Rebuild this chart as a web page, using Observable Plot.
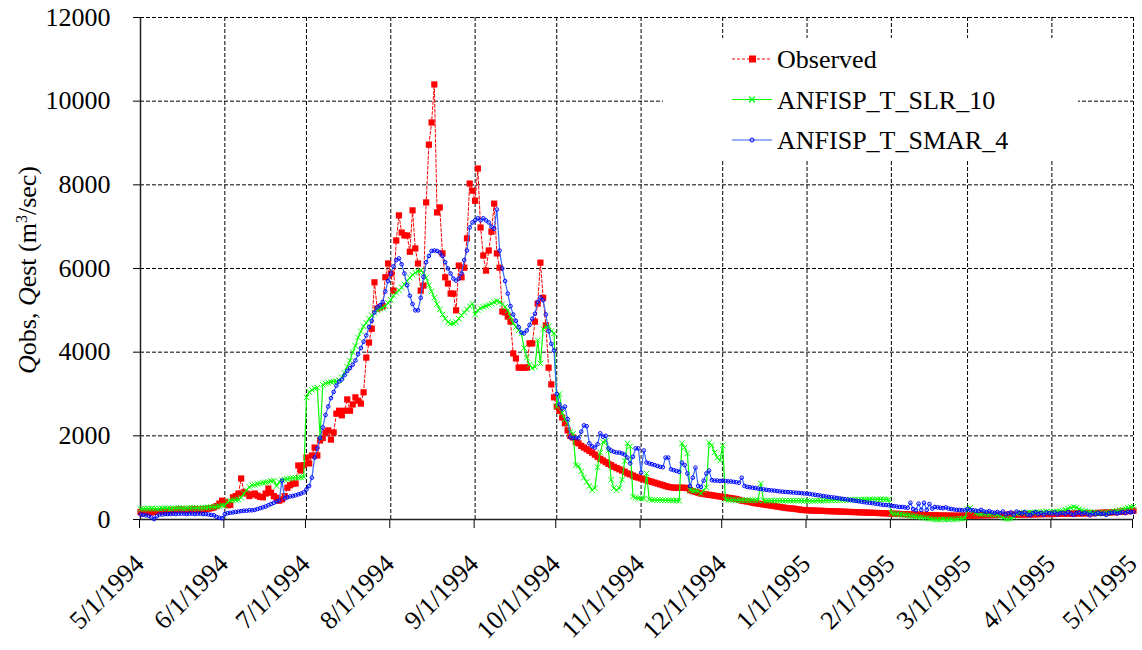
<!DOCTYPE html>
<html>
<head>
<meta charset="utf-8">
<script src="https://cdn.jsdelivr.net/npm/d3@7"></script>
<script src="https://cdn.jsdelivr.net/npm/@observablehq/plot@0.6"></script>
<style>
  html, body { margin: 0; padding: 0; background: #ffffff; }
  #chart { width: 1142px; height: 650px; }
</style>
</head>
<body>
<div id="chart"></div>
<script>
// ---------- DATA (daily values, 5/1/1994 .. 5/1/1995) ----------
const startDate = Date.UTC(1994, 4, 1);
const monthTickLabels = ["5/1/1994","6/1/1994","7/1/1994","8/1/1994","9/1/1994","10/1/1994","11/1/1994","12/1/1994","1/1/1995","2/1/1995","3/1/1995","4/1/1995","5/1/1995"];
const yTicks = [0, 2000, 4000, 6000, 8000, 10000, 12000];
const seriesNames = ["Observed", "ANFISP_T_SLR_10", "ANFISP_T_SMAR_4"];

const observed = [
  // May
  180,170,160,160,170,180,190,200,200,190,200,210,220,230,240,240,230,220,230,240,250,240,230,240,250,260,270,290,320,380,450,
  // Jun
  420,340,350,530,560,620,980,650,620,560,600,620,570,540,530,620,740,640,560,520,450,480,560,760,820,860,860,1290,1170,1300,
  // Jul
  1480,1340,1530,1720,1530,1890,1950,2080,2130,1910,2080,2530,2600,2490,2600,2870,2600,2750,2920,2840,2770,3040,3870,4230,4560,5670,5040,5070,5100,5790,6120,
  // Aug
  5880,5470,6670,7270,6860,6790,6790,6400,7390,6480,6120,5470,5590,7580,8960,9490,10400,7340,7460,6360,5790,5640,5400,5400,5000,6070,5790,6020,6720,8030,7860,
  // Sep
  7620,8390,6980,6310,5950,6430,6880,7550,6360,6020,4970,4950,4850,4730,3970,3850,3630,3630,3630,3630,4210,4210,4730,5160,6140,5300,4640,3630,3230,2920,
  // Oct
  2700,2600,2440,2300,2130,2000,1960,1850,1820,1760,1720,1680,1640,1600,1550,1500,1450,1410,1370,1330,1300,1260,1230,1200,1170,1140,1100,1080,1050,1020,1000,
  // Nov
  980,960,940,920,900,880,860,840,820,800,780,770,760,760,760,760,760,750,700,680,660,640,620,610,600,590,580,570,560,550,
  // Dec
  540,530,520,510,500,490,470,450,440,430,420,400,390,380,370,360,350,340,330,320,310,300,290,280,270,265,260,250,240,230,225,
  // Jan
  220,218,215,212,210,208,205,202,200,198,195,192,190,188,185,182,180,178,175,172,170,168,165,162,160,158,155,152,150,148,145,
  // Feb
  140,138,135,132,130,128,125,122,120,118,115,112,110,108,105,102,100,98,96,95,94,93,92,91,90,90,90,90,
  // Mar
  95,95,96,97,98,100,100,102,104,105,106,108,110,110,112,114,115,116,118,120,120,120,122,122,124,125,126,128,130,130,130,
  // Apr + May 1
  130,132,134,135,136,138,140,140,142,144,145,146,148,150,150,152,155,158,160,162,165,168,170,175,180,185,190,195,200,205,210
];

const slr10 = [
  // May
  250,255,260,260,265,260,255,260,265,270,265,260,265,270,275,270,265,270,275,280,275,270,275,280,285,290,295,300,310,320,340,
  // Jun
  330,420,450,460,470,480,520,620,700,780,820,830,850,860,880,890,900,920,930,800,900,940,960,970,980,990,1000,1000,1010,1020,
  // Jul
  2920,3050,3100,3130,3150,1960,3220,3250,3270,3290,3300,3300,3330,3400,3500,3650,3800,4000,4150,4350,4500,4620,4700,4800,4880,4940,5000,5040,5060,5100,5180,
  // Aug
  5250,5350,5420,5480,5550,5620,5700,5780,5850,5900,5930,5950,5900,5780,5600,5450,5300,5150,5020,4900,4800,4720,4680,4690,4720,4800,4880,4950,5020,5100,5160,
  // Sep
  4900,5000,5050,5080,5100,5130,5160,5200,5220,5200,5150,5080,5000,4850,4700,4600,4520,4450,4100,3870,3700,3620,3650,4280,3730,4550,4600,4620,4500,4450,
  // Oct
  2700,3000,2550,2400,2300,2100,2050,1300,1280,1150,1000,900,800,700,750,1250,1600,1850,1880,1650,950,750,700,750,950,1400,1820,1750,550,520,510,
  // Nov
  500,500,1100,480,470,470,465,465,460,460,460,455,455,455,450,1820,1720,1580,700,690,690,680,620,700,765,1840,1770,1600,1480,1410,
  // Dec
  1770,480,470,470,470,460,460,460,460,460,460,460,460,460,860,450,450,450,450,450,450,450,450,450,450,450,450,450,450,450,450,
  // Jan
  440,440,445,445,450,450,450,455,455,460,460,460,465,465,470,470,470,470,475,475,475,480,480,480,480,480,480,480,480,480,480,
  // Feb
  150,140,130,120,120,110,100,90,80,70,60,50,40,30,20,10,0,0,0,10,0,0,10,0,10,20,20,30,
  // Mar
  250,280,200,150,140,130,140,130,120,130,120,110,90,40,20,10,30,60,140,160,160,150,160,170,160,170,180,170,180,190,180,
  // Apr + May 1
  180,185,190,200,210,230,260,280,300,280,250,220,200,190,180,170,160,160,150,150,160,170,180,190,200,220,240,260,280,300,310
];

const smar4 = [
  // May
  120,110,100,90,50,10,80,120,120,130,130,130,140,130,140,140,140,130,140,140,130,140,140,130,130,120,110,100,60,40,30,
  // Jun
  130,150,160,170,180,190,200,210,210,220,220,230,250,270,290,310,340,370,400,430,450,930,500,530,550,560,580,600,620,650,
  // Jul
  720,800,1000,1480,1700,1950,2200,2500,2700,2900,3050,3200,3300,3350,3450,3550,3620,3700,3800,3950,4100,4250,4400,4600,4750,4950,5070,5120,5200,5450,5700,
  // Aug
  5880,6050,6200,6240,6100,5880,5600,5350,5150,5000,5000,5300,5800,6150,6300,6420,6430,6420,6380,6300,6150,6000,5880,5760,5710,5760,5880,6200,6430,6980,7100,
  // Sep
  7150,7200,7150,7200,7150,7100,7000,6950,7410,6430,6000,5700,5400,5100,4900,4750,4600,4470,4450,4520,4650,4800,4920,5200,5310,5240,4900,4500,4200,4040,
  // Oct
  3000,2750,2650,2700,2400,1960,1950,1960,1940,2100,2250,2230,1820,1750,1720,1800,2060,1980,2000,1700,1650,1620,1600,1600,1580,1550,1480,1340,1500,1700,1700,
  // Nov
  1120,1650,1360,1340,1320,1300,1280,1260,1250,1480,1480,1200,1180,1160,1140,1360,1300,1100,800,1000,1240,800,780,930,1100,1170,940,930,930,920,
  // Dec
  930,920,910,910,900,890,880,1000,800,780,770,760,750,740,730,720,710,700,695,690,680,670,665,660,655,650,645,640,635,630,620,
  // Jan
  620,610,600,590,580,570,560,550,540,530,525,515,505,495,485,475,465,455,445,435,425,415,405,400,390,380,370,360,350,345,340,
  // Feb
  330,320,310,300,300,290,280,400,250,220,380,230,400,230,370,260,300,290,280,270,290,260,250,240,230,230,220,220,
  // Mar
  250,230,220,210,200,230,190,180,200,170,160,180,150,190,120,150,170,110,190,160,140,180,120,100,150,180,130,160,110,170,150,
  // Apr + May 1
  140,170,120,150,160,130,180,140,110,150,170,130,160,140,100,150,120,160,130,140,110,150,160,170,140,160,180,150,190,170,180
];

// ---------- BUILD ----------
const DAY = 86400000;
const dates = observed.map((_, i) => new Date(startDate + i * DAY));
const toRows = arr => arr.map((v, i) => ({date: dates[i], v}));
const obsRows = toRows(observed);
const slrRows = toRows(slr10);
const smarRows = toRows(smar4);
const monthTicks = monthTickLabels.map((_, i) => new Date(Date.UTC(1994, 4 + i, 1)));
const fmtDate = d => `${d.getUTCMonth() + 1}/${d.getUTCDate()}/${d.getUTCFullYear()}`;

const RED = "#ff0000", GREEN = "#00ff00", BLUE_LINE = "#3366ff", BLUE_MARK = "#0000ff";
const FONT = "'Liberation Serif', 'Times New Roman', serif";

const chart = Plot.plot({
  width: 1142,
  height: 650,
  marginLeft: 140,
  marginRight: 9,
  marginTop: 17,
  marginBottom: 131,
  style: {fontFamily: FONT, fontSize: "26px", background: "white", color: "black", overflow: "visible"},
  x: {type: "utc", domain: [monthTicks[0], monthTicks[monthTicks.length - 1]]},
  y: {domain: [0, 12000]},
  marks: [
    Plot.ruleX(monthTicks, {stroke: "black", strokeWidth: 1, strokeDasharray: "4,2"}),
    Plot.ruleY(yTicks, {stroke: "black", strokeWidth: 1, strokeDasharray: "4,2"}),
    Plot.axisY({ticks: yTicks, tickFormat: d => String(d), tickSize: 7, tickPadding: 23, label: null}),
    Plot.axisX({ticks: monthTicks, tickFormat: fmtDate, tickRotate: -45, tickSize: 9, tickPadding: 31, dx: -1, label: null}),
    Plot.ruleX([monthTicks[0]], {stroke: "#222", strokeWidth: 1.5}),
    Plot.ruleY([0], {stroke: "#222", strokeWidth: 1.5}),
    Plot.line(obsRows, {x: "date", y: "v", stroke: RED, strokeWidth: 1, strokeDasharray: "3,2"}),
    Plot.dot(obsRows, {x: "date", y: "v", symbol: "square", r: 3.5, fill: RED, stroke: "none"}),
    Plot.line(slrRows, {x: "date", y: "v", stroke: GREEN, strokeWidth: 1.2}),
    Plot.dot(slrRows, {x: "date", y: "v", symbol: "times", r: 2.6, stroke: GREEN, strokeWidth: 1, fill: "none"}),
    Plot.line(smarRows, {x: "date", y: "v", stroke: BLUE_LINE, strokeWidth: 1.2}),
    Plot.dot(smarRows, {x: "date", y: "v", symbol: "circle", r: 1.8, stroke: BLUE_MARK, strokeWidth: 1, fill: "none"})
  ]
});

document.getElementById("chart").appendChild(chart);

// ---------- Y axis title ----------
const svg = d3.select(chart);
const yt = svg.append("text")
  .attr("transform", "translate(36,270) rotate(-90)")
  .attr("text-anchor", "middle")
  .attr("font-family", FONT)
  .attr("font-size", 26)
  .attr("fill", "black");
yt.append("tspan").attr("font-style", "italic").text("Q");
yt.append("tspan").text("obs, ");
yt.append("tspan").attr("font-style", "italic").text("Q");
yt.append("tspan").text("est (m");
yt.append("tspan").attr("font-size", 16).attr("dy", "-0.55em").text("3");
yt.append("tspan").attr("dy", "0.35em").text("/sec)");

// ---------- Legend ----------
const lg = svg.append("g").attr("text-anchor", "start");
lg.append("rect").attr("x", 663).attr("y", 38).attr("width", 415).attr("height", 122).attr("fill", "white");
const legendStyles = [
  {color: RED, dash: "3,2", marker: "square"},
  {color: GREEN, dash: null, marker: "times"},
  {color: BLUE_LINE, dash: null, marker: "circle"}
];
seriesNames.forEach((name, i) => {
  const cy = 59 + i * 40.5;
  const st = legendStyles[i];
  const ln = lg.append("line").attr("x1", 732).attr("x2", 772).attr("y1", cy).attr("y2", cy)
    .attr("stroke", st.color).attr("stroke-width", 1.2);
  if (st.dash) ln.attr("stroke-dasharray", st.dash);
  if (st.marker === "square") {
    lg.append("rect").attr("x", 749).attr("y", cy - 3.5).attr("width", 7).attr("height", 7).attr("fill", RED);
  } else if (st.marker === "times") {
    lg.append("path").attr("d", `M${749},${cy - 3}L${755},${cy + 3}M${749},${cy + 3}L${755},${cy - 3}`)
      .attr("stroke", GREEN).attr("stroke-width", 1.2);
  } else {
    lg.append("circle").attr("cx", 752).attr("cy", cy).attr("r", 2).attr("fill", "none").attr("stroke", BLUE_MARK);
  }
  lg.append("text").attr("x", 777).attr("y", cy).attr("dy", "0.35em").attr("text-anchor", "start")
    .attr("font-family", FONT).attr("font-size", 26).attr("fill", "black").text(name);
});
</script>
</body>
</html>
